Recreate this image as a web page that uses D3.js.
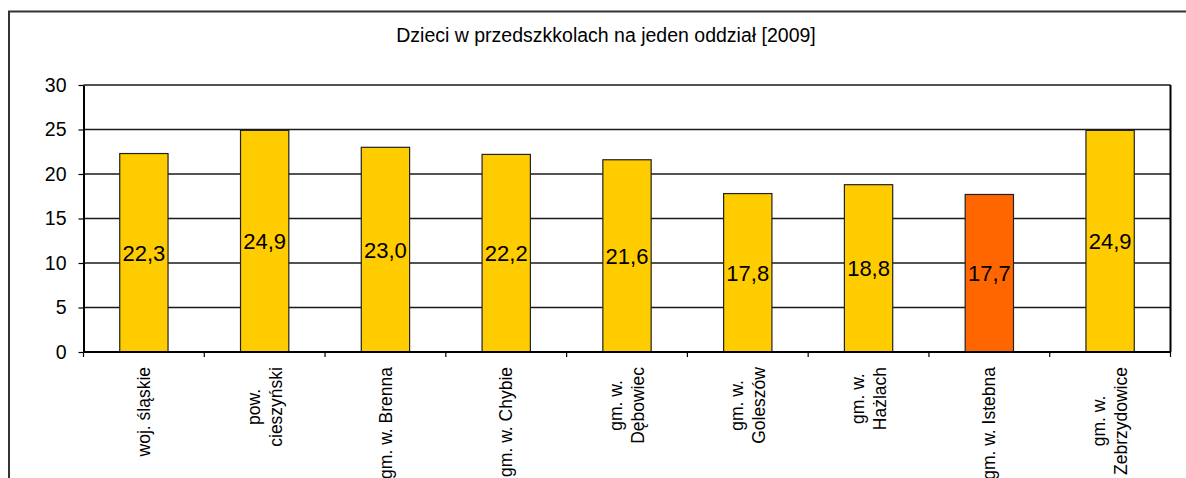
<!DOCTYPE html>
<meta charset="utf-8">
<style>
body { margin: 0; background: #fff; }
svg { font-family: "Liberation Sans", Arial, sans-serif; }
.grid line { stroke: #1a1a1a; stroke-width: 1.5px; }
.axis path, .axis line { stroke: #000; }
.axis text { font-size: 19.5px; fill: #000; }
.bars rect { stroke: #222; stroke-width: 1.2px; }
.values text { font-size: 22px; fill: #000; }
.cats text { font-size: 17.5px; fill: #000; }
</style>
<svg width="1186" height="478"></svg>
<script src="https://d3js.org/d3.v7.min.js"></script>
<script>
var categories = ["woj. śląskie", "pow. cieszyński", "gm. w. Brenna", "gm. w. Chybie",
    "gm. w. Dębowiec", "gm. w. Goleszów", "gm. w. Hażlach", "gm. w. Istebna",
    "gm. w. Zebrzydowice"];
var labelLines = [["woj. śląskie"], ["pow.", "cieszyński"], ["gm. w. Brenna"], ["gm. w. Chybie"],
    ["gm. w.", "Dębowiec"], ["gm. w.", "Goleszów"], ["gm. w.", "Hażlach"], ["gm. w. Istebna"],
    ["gm. w.", "Zebrzydowice"]];
var values = [22.3, 24.9, 23.0, 22.2, 21.6, 17.8, 18.8, 17.7, 24.9];
var highlight = "gm. w. Istebna";
var yTicks = [0, 5, 10, 15, 20, 25, 30];
var title = "Dzieci w przedszkkolach na jeden oddział [2009]";

var svg = d3.select("svg"),
    plotLeft = 83.5, plotRight = 1170.5, plotTop = 85, plotBottom = 352;

var pl = d3.formatLocale({decimal: ",", thousands: " ", grouping: [3], currency: ["", " zł"]});
var fmt = pl.format(".1f");

// outer chart frame (runs off the right and bottom edge)
svg.append("rect")
    .attr("x", 9).attr("y", 11.5)
    .attr("width", 1196).attr("height", 520)
    .attr("fill", "none").attr("stroke", "#333").attr("stroke-width", 2);

svg.append("text")
    .attr("x", 606).attr("y", 42)
    .attr("text-anchor", "middle")
    .style("font-size", "19.5px")
    .text(title);

var x = d3.scaleBand()
    .domain(categories)
    .range([plotLeft, plotRight])
    .paddingInner(0.6)
    .paddingOuter(0.3);

var y = d3.scaleLinear()
    .domain([0, 30])
    .range([plotBottom, plotTop]);

svg.append("g")
    .attr("class", "grid")
  .selectAll("line")
  .data(yTicks.slice(1))
  .enter().append("line")
    .attr("x1", plotLeft).attr("x2", plotRight)
    .attr("y1", function(d) { return y(d); })
    .attr("y2", function(d) { return y(d); });

// right edge of plot area
svg.append("line")
    .attr("x1", plotRight).attr("x2", plotRight)
    .attr("y1", y(30)).attr("y2", y(0))
    .attr("stroke", "#000").attr("stroke-width", 2);

svg.append("g")
    .attr("class", "bars")
  .selectAll("rect")
  .data(values)
  .enter().append("rect")
    .attr("x", function(d, i) { return x(categories[i]); })
    .attr("y", function(d) { return y(d); })
    .attr("width", x.bandwidth())
    .attr("height", function(d) { return y(0) - y(d); })
    .attr("fill", function(d, i) { return categories[i] === highlight ? "#ff6600" : "#ffcc00"; });

svg.append("g")
    .attr("class", "values")
  .selectAll("text")
  .data(values)
  .enter().append("text")
    .attr("x", function(d, i) { return x(categories[i]) + x.bandwidth() / 2; })
    .attr("y", function(d) { return (y(d) + y(0)) / 2; })
    .attr("dy", "0.36em")
    .attr("text-anchor", "middle")
    .text(function(d) { return fmt(d); });

var yAxis = svg.append("g")
    .attr("class", "axis")
    .attr("transform", "translate(" + plotLeft + ",0)")
    .call(d3.axisLeft(y).tickValues(yTicks).tickSize(5).tickSizeOuter(0).tickPadding(12));
yAxis.select(".domain").attr("stroke-width", 2);
yAxis.selectAll(".tick line").attr("stroke-width", 1.2);

// x axis line and ticks at category boundaries
var bounds = d3.range(categories.length + 1).map(function(i) { return x.range()[0] + i * x.step(); });
svg.append("line")
    .attr("x1", plotLeft).attr("x2", plotRight)
    .attr("y1", y(0)).attr("y2", y(0))
    .attr("stroke", "#000").attr("stroke-width", 2);
svg.append("g")
  .selectAll("line")
  .data(bounds)
  .enter().append("line")
    .attr("x1", function(d) { return d; }).attr("x2", function(d) { return d; })
    .attr("y1", y(0)).attr("y2", y(0) + 5)
    .attr("stroke", "#000").attr("stroke-width", 1.2);

// rotated category labels, block top aligned, lines centered
var cats = svg.append("g").attr("class", "cats");
labelLines.forEach(function(lines, i) {
  var cx = x(categories[i]) + x.bandwidth() / 2,
      lh = 22,
      g = cats.append("g");
  var t = g.selectAll("text")
    .data(lines)
    .enter().append("text")
      .attr("text-anchor", "middle")
      .attr("y", function(d, j) { return (j - (lines.length - 1) / 2) * lh; })
      .attr("dy", "0.35em")
      .text(function(d) { return d; });
  var maxLen = d3.max(t.nodes(), function(n) { return n.getComputedTextLength(); });
  g.attr("transform", "translate(" + cx + "," + (367 + maxLen / 2) + ") rotate(-90)");
});
</script>
